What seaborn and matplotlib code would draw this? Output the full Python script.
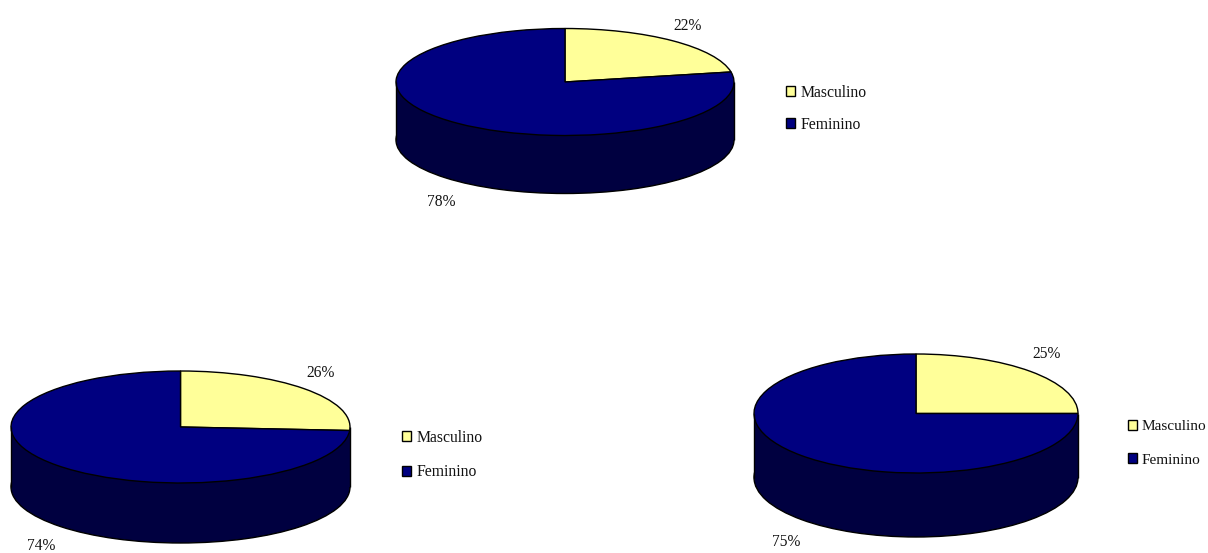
import matplotlib
matplotlib.use("Agg")
import matplotlib.pyplot as plt
import seaborn as sns

sns.set_theme(style="white")
plt.rcParams["font.family"] = ["Liberation Serif", "DejaVu Serif"]

# Shares per group, in percent
categories = ["Masculino", "Feminino"]
group_a = [22, 78]
group_b = [26, 74]
group_c = [25, 75]

palette = sns.color_palette(["#FFFF99", "#000080"])
wall_color = "#000040"

W, H = 1208, 553
DPI = 100

# Disc placement in pixels: centre x, centre y, x radius, y radius, wall depth
disc_a = (565, 82, 169, 53.5, 58)
disc_b = (180.5, 427, 169.5, 56, 60)
disc_c = (916, 413.5, 162, 59.5, 64)

# Pixel positions of the percent captions and the legend's upper-left corner
captions_a = [(688, 26), (441, 202)]
captions_b = [(321, 373), (41, 546)]
captions_c = [(1047, 354), (786, 542)]
legend_a = (786, 85)
legend_b = (402, 430)
legend_c = (1128, 420)

fig = plt.figure(figsize=(W / DPI, H / DPI), dpi=DPI, facecolor="white")


def draw_disc(values, disc, captions, legend_at, row_gap, legend_size):
    cx, cy, rx, ry, depth = disc
    left = (cx - rx) / W
    bottom = 1 - (cy + ry + depth) / H
    ax = fig.add_axes([left, bottom, 2 * rx / W, (2 * ry + depth) / H])
    d = depth / ry

    # Side wall: the lower rim, the band up to the top disc and its two edges
    ax.pie([1], colors=[wall_color], center=(0, -d), radius=1,
           wedgeprops={"edgecolor": "black", "linewidth": 1.0})
    ax.bar(0, d, width=2, bottom=-d, color=wall_color, linewidth=0)
    ax.vlines([-1, 1], -d, 0, color="black", linewidth=1.0)

    # Top face of the disc, clockwise from twelve o'clock
    wedges, _ = ax.pie(values, colors=palette, startangle=90, counterclock=False,
                       radius=1, wedgeprops={"edgecolor": "black", "linewidth": 1.0})
    ax.set_aspect("auto")
    ax.set_xlim(-1, 1)
    ax.set_ylim(-1 - d, 1)
    ax.axis("off")
    for artist in ax.get_children():
        artist.set_clip_on(False)

    for value, (px, py) in zip(values, captions):
        fig.text(px / W, 1 - py / H, f"{value}%", ha="center", va="center",
                 fontsize=11.2, color="#111111")

    handles = [plt.Rectangle((0, 0), 1, 1, facecolor=c, edgecolor="black", linewidth=1.0)
               for c in palette]
    fig.legend(handles, categories, loc="upper left",
               bbox_to_anchor=(legend_at[0] / W, 1 - legend_at[1] / H),
               frameon=False, fontsize=legend_size, handlelength=0.6, handleheight=0.6,
               handletextpad=0.3, labelspacing=row_gap, borderpad=0, borderaxespad=0,
               labelcolor="#111111")


draw_disc(group_a, disc_a, captions_a, legend_a, 1.0, 11.3)
draw_disc(group_b, disc_b, captions_b, legend_b, 1.16, 11.3)
draw_disc(group_c, disc_c, captions_c, legend_c, 1.32, 11.0)

fig.savefig("out.png", dpi=DPI, facecolor="white")
